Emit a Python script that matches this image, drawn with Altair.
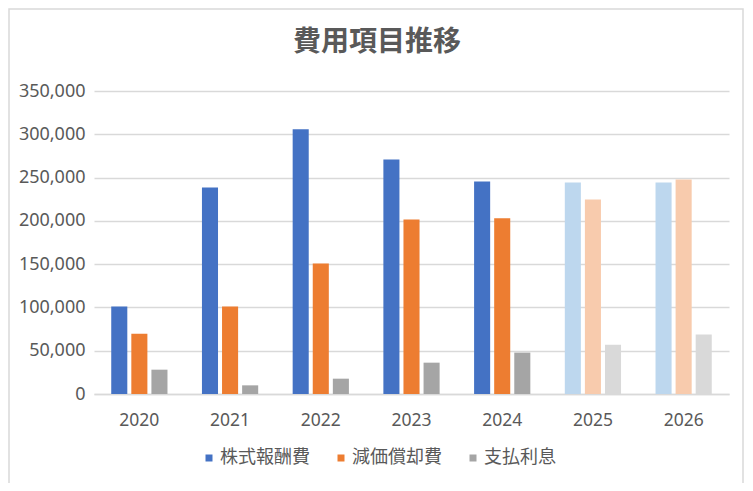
import altair as alt
import pandas as pd

years = ["2020", "2021", "2022", "2023", "2024", "2025", "2026"]
series = ["株式報酬費", "減価償却費", "支払利息"]
stock = [101000, 238600, 305700, 271000, 245500, 244400, 244400]
depr = [69500, 101000, 150700, 201600, 203100, 224700, 247900]
interest = [28100, 10000, 17700, 36200, 47800, 57000, 68600]
forecast_years = ["2025", "2026"]
title_text = "費用項目推移"

colors_actual = ["#4472C4", "#ED7D31", "#A5A5A5"]
colors_forecast = ["#BDD7EE", "#F8CBAD", "#D9D9D9"]

rows = []
for name, vals in zip(series, [stock, depr, interest]):
    for y, v in zip(years, vals):
        key = name + "（予測）" if y in forecast_years else name
        rows.append({"year": y, "series": name, "value": v, "key": key})
df = pd.DataFrame(rows)

keys = series + [s + "（予測）" for s in series]

FONT_NUM = "Noto Sans"
FONT_JP = "Noto Sans CJK JP"
GREY = "#595959"

bars = alt.Chart(df).mark_bar().encode(
    x=alt.X("year:N", sort=years,
            scale=alt.Scale(paddingInner=0.38, paddingOuter=0.19),
            axis=alt.Axis(title=None, labelAngle=0, ticks=False,
                          domain=True, domainColor="#D9D9D9", domainWidth=1.3,
                          labelFont=FONT_NUM, labelFontSize=17.5,
                          labelColor=GREY, labelPadding=17, grid=False)),
    xOffset=alt.XOffset("series:N", sort=series,
                        scale=alt.Scale(paddingInner=0.2, paddingOuter=0)),
    y=alt.Y("value:Q",
            scale=alt.Scale(domain=[0, 350000], nice=False),
            axis=alt.Axis(title=None, values=list(range(0, 350001, 50000)),
                          format=",d", ticks=False, domain=False,
                          gridColor="#D9D9D9", gridWidth=1.3,
                          labelFont=FONT_NUM, labelFontSize=18,
                          labelColor=GREY, labelPadding=9)),
    color=alt.Color("key:N",
                    scale=alt.Scale(domain=keys,
                                    range=colors_actual + colors_forecast),
                    legend=alt.Legend(title=None, values=series,
                                      orient="none", direction="horizontal",
                                      legendX=106, legendY=358,
                                      symbolType="square", symbolSize=49,
                                      symbolStrokeWidth=0,
                                      labelFont=FONT_JP, labelFontSize=18,
                                      labelColor=GREY, labelOffset=2,
                                      columnPadding=22, padding=0)),
)

one = pd.DataFrame({"t": [title_text]})
title = alt.Chart(one).mark_text(
    font=FONT_JP, fontSize=28, fontWeight="bold", color=GREY,
    align="center", baseline="middle"
).encode(text="t:N", x=alt.value(283), y=alt.value(-48))

border = alt.Chart(one).mark_rect(
    fill="transparent", stroke="#D9D9D9", strokeWidth=1.5
).encode(
    x=alt.value(-85), x2=alt.value(649),
    y=alt.value(-82), y2=alt.value(397),
)

chart = alt.layer(bars, title, border).properties(
    width=635, height=303,
    autosize=alt.AutoSizeParams(type="none"),
    padding={"left": 86, "top": 83, "right": 16, "bottom": 89},
).configure(background="white").configure_view(stroke=None)

chart.save("out.html", embed_options={"renderer": "svg", "actions": False})
